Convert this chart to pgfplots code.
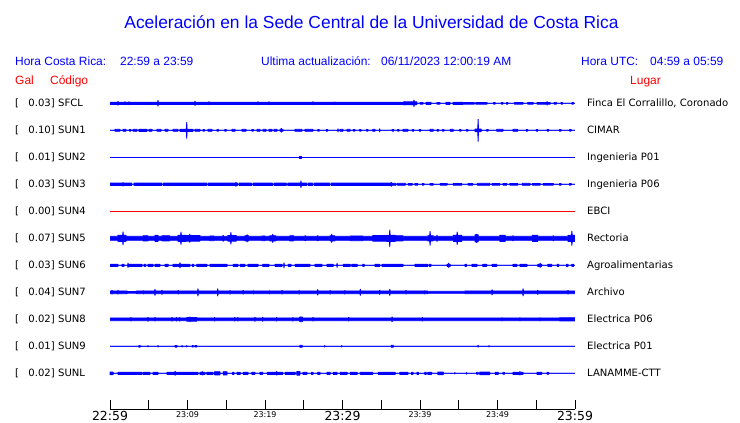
\documentclass[border=0pt]{standalone}
\usepackage{pgfplots}
\pgfplotsset{compat=1.18}
\usepackage{pgfplotstable}
\usepgfplotslibrary{fillbetween}
\usepackage{fontspec}
\setmainfont{Liberation Sans}
\newfontfamily\dejavu{DejaVu Sans}
\definecolor{tblue}{RGB}{0,0,255}
\definecolor{tred}{RGB}{255,0,0}

% envelope tables: t = minutes after 22:59, a = half amplitude (px)
\pgfplotstableread[row sep=\\]{t a\\
0 1.1\\ 0.98 1.1\\ 1.03 1.9\\ 1.08 1.1\\ 1.89 1.1\\ 1.94 1.6\\ 1.99 1.1\\ 2.40 1.1\\ 2.45 1.6\\ 2.50 1.1\\
6.14 1.1\\ 6.19 2.9\\ 6.24 1.1\\ 10.92 1.1\\ 10.97 2.1\\ 11.02 1.1\\ 12.72 1.1\\ 12.77 1.6\\ 12.82 1.1\\
19.04 1.1\\ 19.09 1.6\\ 19.14 1.1\\ 20.46 1.1\\ 20.51 1.6\\ 20.56 1.1\\ 26.14 1.1\\ 26.19 1.6\\ 26.24 1.1\\
28.98 1.1\\ 29.03 1.4\\ 29.08 1.1\\ 37.90 1.1\\ 37.95 1.8\\ 38.00 1.5\\ 39.17 1.5\\ 39.22 3.4\\ 39.27 1.5\\ 39.60 1.5\\ 39.60 0\\
40.00 0\\ 40.00 0.9\\ 40.39 0.9\\ 40.39 0\\ 40.77 0\\ 40.77 1.1\\ 41.41 1.1\\ 41.41 0\\
42.19 0\\ 42.19 0.9\\ 42.58 0.9\\ 42.58 0\\ 43.35 0\\ 43.35 1.1\\ 43.87 1.1\\ 43.87 0\\
44.26 0\\ 44.26 1.1\\ 45.55 1.1\\ 45.55 0\\ 45.68 0\\ 45.68 0.9\\ 47.00 0.9\\ 47.00 0\\ 47.20 0\\ 47.20 0.9\\ 48.65 0.9\\ 48.65 0\\
49.50 0\\ 49.50 0.8\\ 49.70 0.8\\ 49.70 0\\ 50.50 0\\ 50.50 0.8\\ 50.70 0.8\\ 50.70 0\\ 51.15 0\\ 51.15 0.8\\ 51.35 0.8\\ 51.35 0\\
52.20 0\\ 52.20 0.9\\ 53.30 0.9\\ 53.30 0\\ 53.90 0\\ 53.90 0.9\\ 54.60 0.9\\ 54.60 0\\
55.10 0\\ 55.10 0.9\\ 56.35 0.9\\ 56.40 1.8\\ 56.45 0.9\\ 56.80 0.9\\ 56.80 0\\
57.30 0\\ 57.30 0.8\\ 57.60 0.8\\ 57.60 0\\ 58.20 0\\ 58.20 0.8\\ 58.40 0.8\\ 58.40 0\\ 59.60 0\\ 59.60 0.8\\ 59.80 0.8\\ 59.80 0\\ 60 0\\
}\tA

\pgfplotstableread[row sep=\\]{t a\\
0 0\\ 0.65 0\\ 0.65 1.0\\ 1.29 1.0\\ 1.29 0\\ 1.68 0\\ 1.68 1.0\\ 2.06 1.0\\ 2.06 0\\ 2.50 0\\ 2.50 0.8\\ 2.70 0.8\\ 2.70 0\\
2.97 0\\ 2.97 1.0\\ 3.48 1.0\\ 3.48 0\\ 3.74 0\\ 3.74 1.1\\ 4.77 1.1\\ 4.77 0\\ 5.03 0\\ 5.03 1.0\\ 5.42 1.0\\ 5.42 0\\
6.06 0\\ 6.06 1.0\\ 6.58 1.0\\ 6.58 0\\ 7.10 0\\ 7.10 1.0\\ 7.48 1.0\\ 7.48 0\\ 8.13 0\\ 8.13 1.0\\ 8.77 1.0\\ 8.77 0\\
9.03 0\\ 9.03 1.1\\ 9.85 1.1\\ 9.90 8.1\\ 9.95 1.1\\ 10.71 1.1\\ 10.71 0\\ 10.97 0\\ 10.97 1.0\\ 11.61 1.0\\ 11.61 0\\
12.00 0\\ 12.00 0.8\\ 12.20 0.8\\ 12.20 0\\ 12.64 0\\ 12.64 1.0\\ 13.16 1.0\\ 13.16 0\\ 13.80 0\\ 13.80 0.8\\ 14.00 0.8\\ 14.00 0\\
14.80 0\\ 14.80 0.8\\ 15.00 0.8\\ 15.00 0\\ 15.74 0\\ 15.74 1.0\\ 16.13 1.0\\ 16.13 0\\ 17.03 0\\ 17.03 1.0\\ 17.55 1.0\\ 17.55 0\\
18.30 0\\ 18.30 0.8\\ 18.50 0.8\\ 18.50 0\\ 18.97 0\\ 18.97 1.0\\ 19.35 1.0\\ 19.35 0\\ 19.74 0\\ 19.74 1.0\\ 20.13 1.0\\ 20.13 0\\
20.51 0\\ 20.51 1.0\\ 20.90 1.0\\ 20.90 0\\ 21.16 0\\ 21.16 1.0\\ 21.55 1.0\\ 21.55 0\\
21.94 0\\ 21.94 1.0\\ 22.05 1.0\\ 22.10 1.9\\ 22.15 1.0\\ 22.32 1.0\\ 22.32 0\\
23.87 0\\ 23.87 1.0\\ 24.77 1.0\\ 24.77 0\\ 25.16 0\\ 25.16 1.0\\ 26.19 1.0\\ 26.19 0\\
26.80 0\\ 26.80 0.8\\ 27.00 0.8\\ 27.00 0\\ 27.90 0\\ 27.90 0.8\\ 28.10 0.8\\ 28.10 0\\ 29.37 0\\ 29.42 1.6\\ 29.47 0\\
29.68 0\\ 29.68 1.0\\ 30.06 1.0\\ 30.06 0\\ 30.58 0\\ 30.58 1.0\\ 30.97 1.0\\ 30.97 0\\
31.40 0\\ 31.40 0.8\\ 31.60 0.8\\ 31.60 0\\ 32.20 0\\ 32.20 0.8\\ 32.40 0.8\\ 32.40 0\\ 33.10 0\\ 33.10 0.8\\ 33.30 0.8\\ 33.30 0\\
33.90 0\\ 33.90 1.0\\ 34.20 1.0\\ 34.20 0\\ 34.75 0\\ 34.80 1.6\\ 34.85 0\\
36.40 0\\ 36.40 0.8\\ 36.60 0.8\\ 36.60 0\\ 37.10 0\\ 37.10 0.8\\ 37.30 0.8\\ 37.30 0\\ 37.80 0\\ 37.80 1.0\\ 38.45 1.0\\ 38.45 0\\
39.00 0\\ 39.00 0.8\\ 39.20 0.8\\ 39.20 0\\ 39.90 0\\ 39.90 0.8\\ 40.10 0.8\\ 40.10 0\\ 41.30 0\\ 41.30 1.0\\ 41.70 1.0\\ 41.70 0\\
42.20 0\\ 42.20 0.8\\ 42.40 0.8\\ 42.40 0\\ 42.90 0\\ 42.90 0.8\\ 43.10 0.8\\ 43.10 0\\ 43.90 0\\ 43.90 1.0\\ 44.30 1.0\\ 44.30 0\\
45.10 0\\ 45.10 0.8\\ 45.30 0.8\\ 45.30 0\\ 46.00 0\\ 46.00 0.8\\ 46.20 0.8\\ 46.20 0\\
47.10 0\\ 47.10 1.3\\ 47.45 1.3\\ 47.50 11.1\\ 47.55 1.3\\ 47.90 1.3\\ 47.90 0\\
48.60 0\\ 48.60 0.8\\ 48.80 0.8\\ 48.80 0\\ 49.90 0\\ 49.90 1.0\\ 50.70 1.0\\ 50.70 0\\ 52.00 0\\ 52.00 1.0\\ 52.60 1.0\\ 52.60 0\\
53.70 0\\ 53.70 0.8\\ 53.90 0.8\\ 53.90 0\\ 55.00 0\\ 55.00 0.8\\ 55.20 0.8\\ 55.20 0\\ 56.40 0\\ 56.40 0.8\\ 56.60 0.8\\ 56.60 0\\
58.00 0\\ 58.00 0.8\\ 58.20 0.8\\ 58.20 0\\ 59.30 0\\ 59.30 0.8\\ 59.50 0.8\\ 59.50 0\\ 60 0\\
}\tB

\pgfplotstableread[row sep=\\]{t a\\
0 0\\ 24.50 0\\ 24.50 0.9\\ 24.75 0.9\\ 24.75 0\\ 60 0\\
}\tC

\pgfplotstableread[row sep=\\]{t a\\
0 1.2\\ 1.63 1.2\\ 1.68 1.8\\ 1.73 1.2\\ 2.80 1.2\\ 2.80 0\\ 3.10 0\\ 3.10 1.2\\ 6.70 1.2\\ 6.70 0\\ 6.90 0\\ 6.90 1.2\\
12.45 1.2\\ 12.45 0\\ 12.65 0\\ 12.65 1.2\\ 16.20 1.2\\ 16.25 2.0\\ 16.30 1.2\\ 16.45 1.2\\ 16.45 0\\ 16.65 0\\ 16.65 1.2\\
18.25 1.2\\ 18.25 0\\ 18.45 0\\ 18.45 1.2\\ 20.95 1.2\\ 20.95 0\\ 21.15 0\\ 21.15 1.2\\ 22.75 1.2\\ 22.75 0\\ 22.95 0\\ 22.95 1.2\\
24.59 1.2\\ 24.64 3.4\\ 24.69 1.2\\ 25.35 1.2\\ 25.35 0\\ 25.55 0\\ 25.55 1.2\\ 26.15 1.2\\ 26.15 0\\ 26.35 0\\ 26.35 1.2\\
28.35 1.2\\ 28.35 0\\ 28.55 0\\ 28.55 1.2\\ 36.25 1.2\\ 36.30 2.0\\ 36.35 1.2\\ 36.40 1.2\\ 36.40 0\\
36.50 0\\ 36.50 1.0\\ 36.90 1.0\\ 36.90 0\\ 37.10 0\\ 37.10 1.0\\ 38.10 1.0\\ 38.10 0\\
38.50 0\\ 38.50 0.9\\ 39.00 0.9\\ 39.00 0\\ 39.35 0\\ 39.35 0.9\\ 39.70 0.9\\ 39.70 0\\ 40.30 0\\ 40.30 0.8\\ 40.50 0.8\\ 40.50 0\\
41.30 0\\ 41.30 0.9\\ 41.70 0.9\\ 41.70 0\\ 42.60 0\\ 42.60 0.9\\ 43.50 0.9\\ 43.50 0\\ 44.30 0\\ 44.30 0.9\\ 45.40 0.9\\ 45.40 0\\
46.20 0\\ 46.20 0.9\\ 46.80 0.9\\ 46.80 0\\ 47.40 0\\ 47.40 1.0\\ 49.00 1.0\\ 49.00 0\\ 49.30 0\\ 49.30 0.9\\ 50.30 0.9\\ 50.30 0\\
50.70 0\\ 50.70 0.9\\ 51.20 0.9\\ 51.20 0\\ 51.60 0\\ 51.60 0.9\\ 52.60 0.9\\ 52.60 0\\ 53.20 0\\ 53.20 1.0\\ 54.20 1.0\\ 54.20 0\\
54.50 0\\ 54.50 0.9\\ 55.50 0.9\\ 55.50 0\\ 55.90 0\\ 55.90 0.9\\ 57.20 0.9\\ 57.20 0\\ 58.00 0\\ 58.00 0.8\\ 58.20 0.8\\ 58.20 0\\
59.30 0\\ 59.30 0.9\\ 59.50 0.9\\ 59.50 0\\ 60 0\\
}\tD

\pgfplotstableread[row sep=\\]{t a\\
0 2.0\\ 1.00 2.0\\ 1.03 3.1\\ 1.63 3.1\\ 1.68 6.6\\ 1.73 3.1\\ 2.06 3.1\\ 2.10 2.0\\
4.26 2.0\\ 4.26 2.6\\ 4.90 2.6\\ 4.90 2.0\\ 5.80 2.0\\ 5.80 3.1\\ 6.20 3.1\\ 6.20 2.0\\ 6.70 2.0\\ 6.70 2.6\\ 7.70 2.6\\ 7.70 2.0\\
8.77 2.0\\ 8.77 3.1\\ 9.11 3.1\\ 9.16 6.2\\ 9.21 3.1\\ 9.80 3.1\\ 9.80 2.0\\
9.90 2.0\\ 9.90 2.8\\ 10.25 2.8\\ 10.30 4.1\\ 10.35 2.8\\ 11.60 2.8\\ 11.60 2.0\\
12.90 2.0\\ 12.90 2.4\\ 13.40 2.4\\ 13.40 2.0\\ 14.55 2.0\\ 14.60 3.1\\ 14.65 2.0\\
15.20 2.0\\ 15.20 2.8\\ 15.55 2.8\\ 15.60 5.8\\ 15.65 2.8\\ 16.30 2.8\\ 16.30 2.0\\
17.40 2.0\\ 17.40 2.6\\ 17.65 2.6\\ 17.70 3.6\\ 17.75 2.6\\ 17.90 2.6\\ 17.90 2.0\\
19.60 2.0\\ 19.60 2.4\\ 20.00 2.4\\ 20.00 2.0\\ 20.60 2.0\\ 20.60 2.6\\ 20.95 2.6\\ 21.00 4.1\\ 21.05 2.6\\ 21.40 2.6\\ 21.40 2.0\\
23.20 2.0\\ 23.20 2.6\\ 23.70 2.6\\ 23.70 2.0\\ 25.10 2.0\\ 25.20 2.6\\ 25.30 2.0\\ 26.70 2.0\\ 26.80 2.6\\ 26.90 2.0\\
28.40 2.0\\ 28.40 2.6\\ 28.55 2.6\\ 28.60 4.1\\ 28.65 2.6\\ 29.00 2.6\\ 29.00 2.0\\
31.00 2.0\\ 31.00 2.4\\ 32.60 2.4\\ 32.60 2.0\\
33.90 2.0\\ 33.90 2.8\\ 35.70 2.8\\ 35.70 3.1\\ 36.05 3.1\\ 36.10 8.4\\ 36.15 3.1\\ 36.80 3.1\\ 36.80 2.6\\ 37.80 2.6\\ 37.80 2.0\\
41.00 2.0\\ 41.00 2.6\\ 41.25 2.6\\ 41.30 7.0\\ 41.35 2.6\\ 41.70 2.6\\ 41.70 2.0\\ 42.15 2.0\\ 42.20 3.1\\ 42.25 2.0\\
44.30 2.0\\ 44.30 3.1\\ 44.75 3.1\\ 44.80 6.3\\ 44.85 3.1\\ 45.40 3.1\\ 45.40 2.0\\
47.10 2.0\\ 47.10 3.6\\ 47.25 3.6\\ 47.30 4.1\\ 47.35 3.6\\ 47.50 3.6\\ 47.50 2.0\\
50.30 2.0\\ 50.30 3.1\\ 51.00 3.1\\ 51.00 2.0\\ 51.95 2.0\\ 52.00 2.6\\ 52.05 2.0\\
54.50 2.0\\ 54.50 3.1\\ 55.20 3.1\\ 55.20 2.0\\ 57.15 2.0\\ 57.20 2.6\\ 57.25 2.0\\
59.10 2.0\\ 59.10 3.1\\ 59.55 3.1\\ 59.60 7.1\\ 59.65 3.1\\ 60.00 3.1\\
}\tF

\pgfplotstableread[row sep=\\]{t a\\
0 1.1\\ 1.03 1.1\\ 1.03 0\\ 1.55 0\\ 1.55 1.1\\ 1.81 1.1\\ 1.81 0\\ 2.27 0\\ 2.32 2.1\\ 2.37 1.1\\ 4.13 1.1\\ 4.13 0\\
4.40 0\\ 4.40 1.1\\ 4.60 1.1\\ 4.60 0\\ 4.90 0\\ 4.90 1.1\\ 5.55 1.1\\ 5.55 0\\ 5.80 0\\ 5.80 1.1\\ 6.45 1.1\\ 6.45 0\\
7.10 0\\ 7.10 1.1\\ 7.50 1.1\\ 7.50 0\\ 8.13 0\\ 8.13 1.1\\ 8.65 1.1\\ 8.65 0\\
8.77 0\\ 8.77 1.1\\ 8.98 1.1\\ 9.03 2.6\\ 9.08 1.1\\ 10.32 1.1\\ 10.32 0\\ 10.60 0\\ 10.60 1.1\\ 10.80 1.1\\ 10.80 0\\
11.20 0\\ 11.20 1.1\\ 12.50 1.1\\ 12.50 0\\ 12.90 0\\ 12.90 1.1\\ 15.10 1.1\\ 15.10 0\\ 15.90 0\\ 15.90 1.1\\ 16.50 1.1\\ 16.50 0\\
16.80 0\\ 16.80 1.1\\ 17.40 1.1\\ 17.40 0\\ 17.80 0\\ 17.80 1.1\\ 19.10 1.1\\ 19.10 0\\ 19.70 0\\ 19.70 1.1\\ 20.50 1.1\\ 20.50 0\\
21.30 0\\ 21.30 1.1\\ 22.20 1.1\\ 22.20 0\\ 22.40 0\\ 22.45 2.6\\ 22.50 0\\ 23.00 0\\ 23.00 1.1\\ 23.35 1.1\\ 23.35 0\\
23.90 0\\ 23.90 1.1\\ 25.80 1.1\\ 25.80 0\\ 26.45 0\\ 26.45 1.1\\ 27.35 1.1\\ 27.35 0\\ 28.00 0\\ 28.00 1.1\\ 28.80 1.1\\ 28.80 0\\
29.25 0\\ 29.30 2.1\\ 29.35 0\\ 30.10 0\\ 30.10 1.1\\ 31.00 1.1\\ 31.00 0\\ 31.20 0\\ 31.20 1.1\\ 31.90 1.1\\ 31.90 0\\
32.60 0\\ 32.60 1.1\\ 32.80 1.1\\ 32.80 0\\ 34.20 0\\ 34.20 1.1\\ 34.80 1.1\\ 34.80 0\\ 35.10 0\\ 35.10 1.1\\ 37.80 1.1\\ 37.80 0\\
39.35 0\\ 39.35 1.1\\ 41.00 1.1\\ 41.00 0\\ 41.20 0\\ 41.20 1.1\\ 41.40 1.1\\ 41.40 0\\
43.50 0\\ 43.50 1.1\\ 43.65 1.1\\ 43.70 2.1\\ 43.75 1.1\\ 43.90 1.1\\ 43.90 0\\ 45.80 0\\ 45.80 1.1\\ 46.00 1.1\\ 46.00 0\\
46.70 0\\ 46.70 1.1\\ 47.35 1.1\\ 47.35 0\\ 48.10 0\\ 48.10 1.1\\ 48.60 1.1\\ 48.60 0\\ 49.30 0\\ 49.30 1.1\\ 49.90 1.1\\ 49.90 0\\
52.00 0\\ 52.00 1.1\\ 52.50 1.1\\ 52.50 0\\ 52.90 0\\ 52.90 1.1\\ 53.80 1.1\\ 53.80 0\\
55.20 0\\ 55.20 1.1\\ 55.45 1.1\\ 55.50 2.1\\ 55.55 1.1\\ 55.70 1.1\\ 55.70 0\\ 56.50 0\\ 56.50 1.1\\ 57.00 1.1\\ 57.00 0\\
57.70 0\\ 57.70 1.1\\ 57.90 1.1\\ 57.90 0\\ 58.90 0\\ 58.90 1.1\\ 59.10 1.1\\ 59.10 0\\ 59.60 0\\ 59.60 1.1\\ 59.80 1.1\\ 59.80 0\\ 60 0\\
}\tG

\pgfplotstableread[row sep=\\]{t a\\
0 1.4\\ 0.21 1.4\\ 0.26 1.8\\ 0.31 1.4\\ 0.98 1.4\\ 1.03 1.8\\ 1.08 1.4\\ 2.20 1.4\\ 2.20 0.9\\ 3.40 0.9\\ 3.40 1.4\\
4.25 1.4\\ 4.30 1.6\\ 4.35 1.4\\ 5.75 1.4\\ 5.80 3.1\\ 5.85 1.4\\ 6.65 1.4\\ 6.70 2.1\\ 6.75 1.4\\ 8.75 1.4\\ 8.80 1.8\\ 8.85 1.4\\
11.30 1.4\\ 11.35 3.6\\ 11.40 1.4\\ 13.85 1.4\\ 13.90 3.6\\ 13.95 1.4\\ 15.45 1.4\\ 15.50 1.8\\ 15.55 1.4\\
17.15 1.4\\ 17.20 1.8\\ 17.25 1.4\\ 18.45 1.4\\ 18.50 1.6\\ 18.55 1.4\\ 20.55 1.4\\ 20.60 1.6\\ 20.65 1.4\\
22.15 1.4\\ 22.20 1.8\\ 22.25 1.4\\ 24.35 1.4\\ 24.40 1.8\\ 24.45 1.4\\ 26.75 1.4\\ 26.80 2.8\\ 26.85 1.4\\
28.35 1.4\\ 28.40 1.8\\ 28.45 1.4\\ 30.25 1.4\\ 30.30 1.8\\ 30.35 1.4\\ 32.25 1.4\\ 32.30 3.1\\ 32.35 1.4\\
34.75 1.4\\ 34.80 2.1\\ 34.85 1.4\\ 36.05 1.4\\ 36.10 3.1\\ 36.15 1.4\\ 38.15 1.4\\ 38.20 1.8\\ 38.25 1.4\\
40.55 1.4\\ 40.60 1.6\\ 40.65 1.4\\ 41.00 1.4\\ 41.00 1.0\\ 45.80 1.0\\ 45.80 1.4\\
49.25 1.4\\ 49.30 2.6\\ 49.35 1.4\\ 53.25 1.4\\ 53.30 3.6\\ 53.35 1.4\\ 55.15 1.4\\ 55.20 2.1\\ 55.25 1.4\\
59.05 1.4\\ 59.10 1.8\\ 59.15 1.4\\ 60 1.4\\
}\tH

\pgfplotstableread[row sep=\\]{t a\\
0 1.4\\ 2.65 1.4\\ 2.70 1.8\\ 2.75 1.4\\ 4.85 1.4\\ 4.90 2.0\\ 4.95 1.4\\ 5.75 1.4\\ 5.80 1.8\\ 5.85 1.4\\
7.95 1.4\\ 8.00 1.8\\ 8.05 1.4\\ 8.55 1.4\\ 8.60 1.8\\ 8.65 1.4\\ 8.95 1.4\\ 9.00 1.8\\ 9.05 1.4\\
9.90 1.4\\ 9.90 1.8\\ 10.25 1.8\\ 10.30 2.4\\ 10.35 1.8\\ 11.20 1.8\\ 11.20 1.4\\
13.45 1.4\\ 13.50 1.8\\ 13.55 1.4\\ 16.05 1.4\\ 16.10 1.8\\ 16.15 1.4\\ 16.45 1.4\\ 16.50 1.8\\ 16.55 1.4\\
18.65 1.4\\ 18.70 2.0\\ 18.75 1.4\\ 19.65 1.4\\ 19.70 2.0\\ 19.75 1.4\\ 21.45 1.4\\ 21.50 1.8\\ 21.55 1.4\\
23.55 1.4\\ 23.60 1.8\\ 23.65 1.4\\ 24.45 1.4\\ 24.50 2.4\\ 24.80 2.4\\ 24.85 1.4\\ 26.15 1.4\\ 26.20 1.8\\ 26.25 1.4\\
30.75 1.4\\ 30.80 1.8\\ 30.85 1.4\\ 36.35 1.4\\ 36.40 2.4\\ 36.45 1.4\\ 40.25 1.4\\ 40.30 1.8\\ 40.35 1.4\\
50.55 1.4\\ 50.60 1.6\\ 50.65 1.4\\ 52.85 1.4\\ 52.90 1.6\\ 52.95 1.4\\ 55.45 1.4\\ 55.50 1.6\\ 55.55 1.4\\
58.00 1.4\\ 58.00 1.6\\ 60 1.6\\
}\tI

\pgfplotstableread[row sep=\\]{t a\\
0 0\\ 3.69 0\\ 3.74 0.8\\ 3.89 0.8\\ 3.94 0\\ 4.85 0\\ 4.90 0.7\\ 4.95 0\\ 6.15 0\\ 6.20 0.8\\ 6.25 0\\
8.40 0\\ 8.40 0.8\\ 8.65 0.8\\ 8.65 0\\ 9.25 0\\ 9.30 0.8\\ 9.35 0\\ 9.85 0\\ 9.90 0.7\\ 9.95 0\\
10.60 0\\ 10.60 0.7\\ 10.75 0.7\\ 10.75 0\\ 10.95 0\\ 10.95 0.7\\ 11.20 0.7\\ 11.20 0\\
24.50 0\\ 24.50 1.0\\ 24.80 1.0\\ 24.80 0\\ 27.65 0\\ 27.70 0.7\\ 27.75 0\\ 29.85 0\\ 29.90 0.7\\ 29.95 0\\
36.30 0\\ 36.30 1.0\\ 36.55 1.0\\ 36.55 0\\ 47.45 0\\ 47.50 1.0\\ 47.55 0\\ 48.85 0\\ 48.90 0.7\\ 48.95 0\\ 60 0\\
}\tJ

\pgfplotstableread[row sep=\\]{t a\\
0 0\\ 0 1.3\\ 0.40 1.3\\ 0.40 0\\ 1.03 0\\ 1.03 1.1\\ 3.50 1.1\\ 3.50 0\\ 3.60 0\\ 3.60 1.1\\ 4.10 1.1\\ 4.10 0\\
4.26 0\\ 4.26 1.1\\ 5.16 1.1\\ 5.16 0\\ 5.55 0\\ 5.55 1.1\\ 6.20 1.1\\ 6.20 0\\ 7.35 0\\ 7.35 1.1\\ 8.00 1.1\\ 8.00 0\\
8.10 0\\ 8.10 1.1\\ 8.35 1.1\\ 8.40 2.1\\ 8.45 1.1\\ 8.65 1.1\\ 8.65 0\\ 8.77 0\\ 8.77 1.1\\ 11.35 1.1\\ 11.35 0\\
11.60 0\\ 11.60 1.1\\ 11.85 1.1\\ 11.90 1.8\\ 11.95 1.1\\ 12.26 1.1\\ 12.26 0\\ 12.50 0\\ 12.50 1.1\\ 13.30 1.1\\ 13.30 0\\
13.50 0\\ 13.50 1.6\\ 14.20 1.6\\ 14.20 0\\ 14.60 0\\ 14.60 1.6\\ 15.10 1.6\\ 15.10 0\\ 15.80 0\\ 15.80 1.1\\ 16.00 1.1\\ 16.00 0\\
16.40 0\\ 16.40 1.1\\ 16.80 1.1\\ 16.80 0\\ 17.20 0\\ 17.20 1.1\\ 17.80 1.1\\ 17.80 0\\ 18.30 0\\ 18.30 1.1\\ 18.70 1.1\\ 18.70 0\\
19.35 0\\ 19.35 1.1\\ 19.70 1.1\\ 19.70 0\\ 20.30 0\\ 20.30 1.1\\ 21.45 1.1\\ 21.50 1.8\\ 21.55 1.1\\ 22.30 1.1\\ 22.30 0\\
22.60 0\\ 22.60 1.1\\ 23.90 1.1\\ 23.90 0\\ 24.10 0\\ 24.10 1.8\\ 24.50 1.8\\ 24.50 0\\ 24.90 0\\ 24.90 1.1\\ 25.40 1.1\\ 25.40 0\\
26.00 0\\ 26.00 1.1\\ 26.20 1.1\\ 26.20 0\\ 26.80 0\\ 26.80 1.1\\ 27.10 1.1\\ 27.10 0\\ 28.00 0\\ 28.00 1.1\\ 28.40 1.1\\ 28.40 0\\
28.80 0\\ 28.80 1.1\\ 29.30 1.1\\ 29.30 0\\ 29.70 0\\ 29.70 1.1\\ 30.60 1.1\\ 30.60 0\\ 31.00 0\\ 31.00 1.1\\ 31.90 1.1\\ 31.90 0\\
32.30 0\\ 32.30 1.1\\ 33.90 1.1\\ 33.90 0\\ 34.60 0\\ 34.60 1.1\\ 36.80 1.1\\ 36.80 0\\ 37.40 0\\ 37.40 1.1\\ 38.45 1.1\\ 38.45 0\\
38.90 0\\ 38.90 1.1\\ 39.10 1.1\\ 39.10 0\\ 39.60 0\\ 39.60 1.1\\ 39.80 1.1\\ 39.80 0\\ 40.60 0\\ 40.60 1.1\\ 40.80 1.1\\ 40.80 0\\
41.00 0\\ 41.00 1.1\\ 41.50 1.1\\ 41.50 0\\ 42.30 0\\ 42.30 1.3\\ 43.00 1.3\\ 43.00 0\\ 44.45 0\\ 44.50 0.8\\ 44.55 0\\
45.95 0\\ 46.00 0.8\\ 46.05 0\\ 47.30 0\\ 47.30 1.0\\ 47.50 1.0\\ 47.50 0\\ 47.70 0\\ 47.70 1.3\\ 49.00 1.3\\ 49.00 0\\
49.70 0\\ 49.70 1.1\\ 50.10 1.1\\ 50.10 0\\ 50.70 0\\ 50.70 1.0\\ 50.90 1.0\\ 50.90 0\\
52.00 0\\ 52.00 1.1\\ 52.85 1.1\\ 52.90 1.8\\ 52.95 1.1\\ 53.30 1.1\\ 53.30 0\\ 55.10 0\\ 55.10 1.1\\ 55.70 1.1\\ 55.70 0\\
56.40 0\\ 56.40 1.0\\ 56.60 1.0\\ 56.60 0\\ 60 0\\
}\tK

% #1 name, #2 row position (px from top), #3 table
\newcommand\trace[3]{%
  \addplot[tblue, line width=0.8bp, line join=round, name path=U#1] table[x=t, y expr={-#2+\thisrow{a}}] {#3};
  \addplot[tblue, line width=0.8bp, line join=round, name path=L#1] table[x=t, y expr={-#2-\thisrow{a}}] {#3};
  \addplot[tblue] fill between[of=U#1 and L#1];
}

\begin{document}
\begin{tikzpicture}[lab/.style={inner sep=0pt, anchor=base west}]
\begin{axis}[
  at={(110bp,-90bp)}, anchor=north west,
  scale only axis, width=465bp, height=319bp,
  xmin=0, xmax=60, ymin=-409, ymax=-90,
  clip=false,
  axis x line=bottom, axis y line=none,
  x axis line style={-, black, line width=0.9bp},
  xtick={0,5,...,60},
  xticklabels={{\fontsize{12.5}{12.5}\selectfont 22:59},{},{23:09},{},{23:19},{},{\fontsize{12.5}{12.5}\selectfont 23:29},{},{23:39},{},{23:49},{},{\fontsize{12.5}{12.5}\selectfont 23:59}},
  xticklabel style={font=\dejavu\fontsize{8}{8}\selectfont, inner sep=0pt, anchor=north, yshift=-2bp},
  tick align=inside, major tick length=9bp,
  tick style={black, line width=0.9bp},
  ytick=\empty,
]
\trace{A}{103.3}{\tA}
\trace{B}{130.3}{\tB}
\trace{C}{157.3}{\tC}
\trace{D}{184.3}{\tD}
\addplot[tred, line width=0.8bp] coordinates {(0,-211.3) (60,-211.3)};
\trace{F}{238.3}{\tF}
\trace{G}{265.3}{\tG}
\trace{H}{292.3}{\tH}
\trace{I}{319.3}{\tI}
\trace{J}{346.3}{\tJ}
\trace{K}{373.3}{\tK}
\end{axis}

\node[anchor=base, inner sep=0pt, text=tblue, font=\fontsize{17.5}{17.5}\selectfont] at (371.5bp,-28bp)
  {Aceleración en la Sede Central de la Universidad de Costa Rica};

\begin{scope}[every node/.append style={text=tblue, font=\fontsize{12}{12}\selectfont}]
\node[lab] at (15bp,-65.5bp) {Hora Costa Rica:};
\node[lab] at (120bp,-65.5bp) {22:59 a 23:59};
\node[lab] at (261bp,-65.5bp) {Ultima actualización:};
\node[lab] at (381bp,-65.5bp) {06/11/2023 12:00:19 AM};
\node[lab] at (581bp,-65.5bp) {Hora UTC:};
\node[lab] at (650bp,-65.5bp) {04:59 a 05:59};
\end{scope}
\begin{scope}[every node/.append style={text=tred, font=\fontsize{12}{12}\selectfont}]
\node[lab] at (15bp,-84.5bp) {Gal};
\node[lab] at (50bp,-84.5bp) {Código};
\node[lab] at (630bp,-84.5bp) {Lugar};
\end{scope}

\foreach \v/\c/\l [count=\i from 0] in {0.03/SFCL/{Finca El Corralillo, Coronado},0.10/SUN1/CIMAR,0.01/SUN2/Ingenieria P01,0.03/SUN3/Ingenieria P06,0.00/SUN4/EBCI,0.07/SUN5/Rectoria,0.03/SUN6/Agroalimentarias,0.04/SUN7/Archivo,0.02/SUN8/Electrica P06,0.01/SUN9/Electrica P01,0.02/SUNL/LANAMME-CTT}{
  \pgfmathsetmacro\yy{-106.8-27*\i}
  \node[lab, font=\dejavu\fontsize{10.1}{10.1}\selectfont] at (15bp,\yy bp) {[};
  \node[inner sep=0pt, anchor=base east, font=\dejavu\fontsize{10.1}{10.1}\selectfont] at (55bp,\yy bp) {\v]};
  \node[lab, font=\dejavu\fontsize{10.1}{10.1}\selectfont] at (58bp,\yy bp) {\c};
  \node[lab, font=\dejavu\fontsize{10.1}{10.1}\selectfont] at (587bp,\yy bp) {\l};
}
\pgfresetboundingbox
\useasboundingbox (0,0) rectangle (740bp,-423bp);
\end{tikzpicture}
\end{document}
